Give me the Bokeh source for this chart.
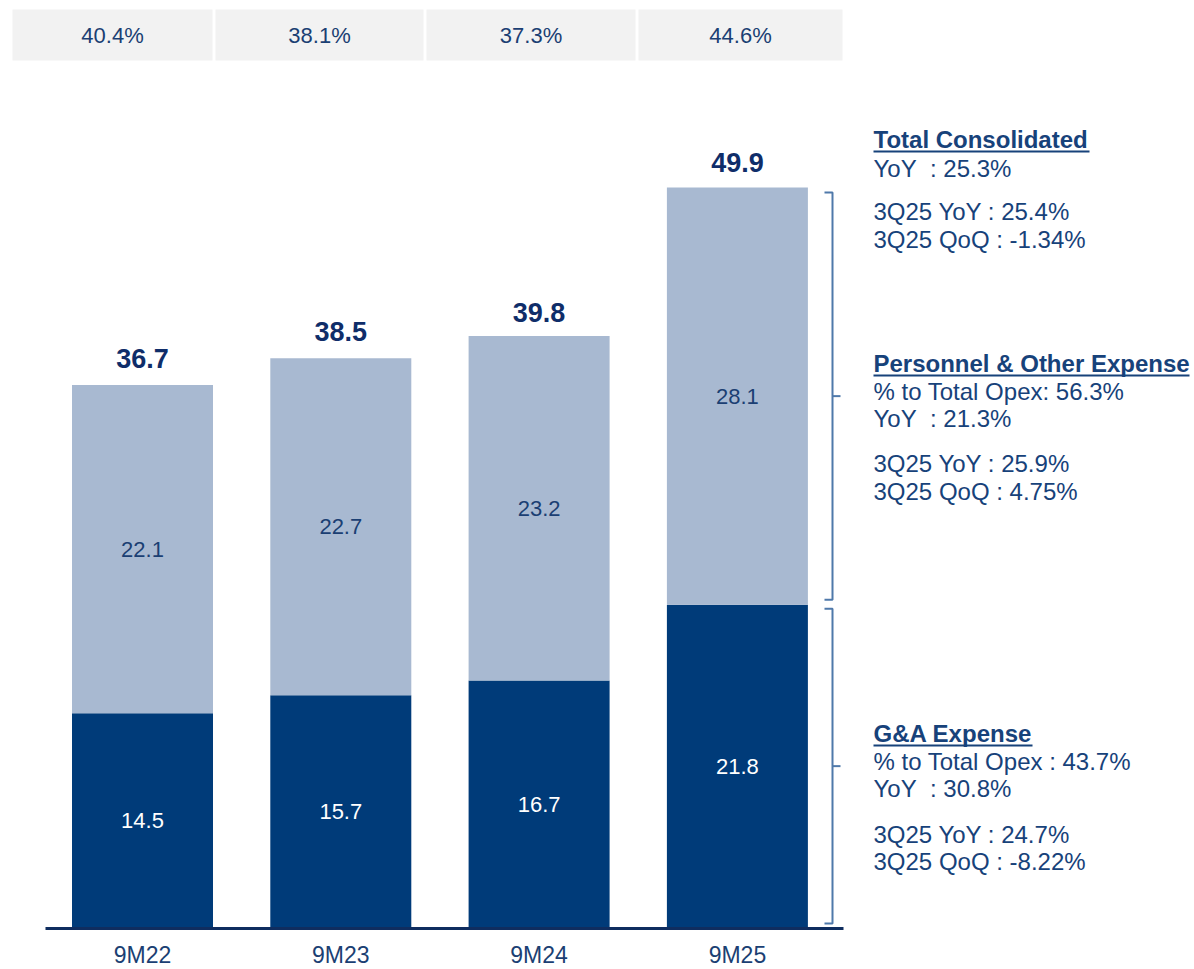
from bokeh.plotting import figure
from bokeh.models import Range1d, ColumnDataSource
from bokeh.core.properties import value
from bokeh.embed import file_html
from bokeh.resources import INLINE

# ---------------- data ----------------
categories = ["9M22", "9M23", "9M24", "9M25"]
ga_expense = [14.5, 15.7, 16.7, 21.8]
personnel_other = [22.1, 22.7, 23.2, 28.1]
totals = [36.7, 38.5, 39.8, 49.9]
ratio_labels = ["40.4%", "38.1%", "37.3%", "44.6%"]

panel_text = [
    "Total Consolidated", "YoY\u00a0 : 25.3%", "3Q25 YoY : 25.4%", "3Q25 QoQ : -1.34%",
    "Personnel & Other Expense", "% to Total Opex: 56.3%", "YoY\u00a0 : 21.3%",
    "3Q25 YoY : 25.9%", "3Q25 QoQ : 4.75%",
    "G&A Expense", "% to Total Opex : 43.7%", "YoY\u00a0 : 30.8%",
    "3Q25 YoY : 24.7%", "3Q25 QoQ : -8.22%",
]
panel_header = [True, False, False, False, True, False, False, False, False,
                True, False, False, False, False]

# ---------------- layout helpers (page pixels -> data units) ----------------
W, H = 1194, 969
PX_X = 198.3          # px per category step
PX_Y = 14.85          # px per unit of value
X0_PAGE = 142         # page x of first category centre
Y0_PAGE = 928         # page y of value 0


def X(px):
    return (px - X0_PAGE) / PX_X


def Y(py):
    return (Y0_PAGE - py) / PX_Y


DARK = "#003B79"
LIGHT = "#A8B9D1"
BOX = "#F2F2F2"
TXT = "#1B3F73"
TOTAL_TXT = "#0F2D69"
PANEL = "#17427A"
BRACKET = "#4F79AA"
FONT = "Liberation Sans"

p = figure(width=W, height=H, output_backend="svg", toolbar_location=None,
           x_range=Range1d(X(0), X(W)), y_range=Range1d(Y(H), Y(0)),
           min_border=0)
p.axis.visible = False
p.grid.visible = False
p.outline_line_color = None
p.background_fill_color = "white"
p.border_fill_color = "white"

xs = list(range(len(categories)))
bw = 141 / PX_X

src = ColumnDataSource(dict(
    x=xs, cat=categories, ga=ga_expense, po=personnel_other, tot=totals,
    ga_top=ga_expense,
    po_top=[g + q for g, q in zip(ga_expense, personnel_other)],
    ga_mid=[g / 2 for g in ga_expense],
    po_mid=[g + q / 2 for g, q in zip(ga_expense, personnel_other)],
    ga_lbl=[f"{v:.1f}" for v in ga_expense],
    po_lbl=[f"{v:.1f}" for v in personnel_other],
    tot_lbl=[f"{v:.1f}" for v in totals],
))

# stacked bars
p.vbar(x="x", bottom=0, top="ga_top", width=bw, source=src,
       fill_color=DARK, line_color=None)
p.vbar(x="x", bottom="ga_top", top="po_top", width=bw, source=src,
       fill_color=LIGHT, line_color=None)

# segment labels
p.text(x="x", y="ga_mid", text="ga_lbl", source=src, text_color="white",
       text_font=value(FONT), text_font_size="22px", text_align="center",
       text_baseline="middle")
p.text(x="x", y="po_mid", text="po_lbl", source=src, text_color=TXT,
       text_font=value(FONT), text_font_size="22px", text_align="center",
       text_baseline="middle")
# totals
p.text(x="x", y="tot", text="tot_lbl", source=src, text_color=TOTAL_TXT,
       text_font=value(FONT), text_font_size="27px", text_font_style="bold",
       text_align="center", text_baseline="middle", y_offset=-25)

# baseline
p.segment(x0=[X(45)], y0=[0], x1=[X(843)], y1=[0], line_color="#0F2D5F",
          line_width=3)

# category labels
p.text(x="x", y=Y(954), text="cat", source=src, text_color=TXT,
       text_font=value(FONT), text_font_size="23px", text_align="center",
       text_baseline="middle")

# top ratio boxes
box_left = [12, 215, 426, 638]
box_right = [212, 423, 635, 842]
bsrc = ColumnDataSource(dict(
    l=[X(v) for v in box_left], r=[X(v) for v in box_right],
    c=[X((a + b) / 2) for a, b in zip(box_left, box_right)],
    t=ratio_labels))
p.quad(left="l", right="r", top=Y(9), bottom=Y(60), source=bsrc,
       fill_color=BOX, line_color=None)
p.text(x="c", y=Y(35), text="t", source=bsrc, text_color=TXT,
       text_font=value(FONT), text_font_size="22px",
       text_align="center", text_baseline="middle")

# brackets (tied to 9M25 segments)
i4 = len(categories) - 1
top_b1 = totals[i4] - 5 / PX_Y
bot_b1 = ga_expense[i4] + 5 / PX_Y
mid_b1 = (top_b1 + bot_b1) / 2
top_b2 = ga_expense[i4] - 4 / PX_Y
bot_b2 = 0 + 5 / PX_Y
mid_b2 = (top_b2 + bot_b2) / 2
xa, xb, xc = X(824), X(832), X(840)
p.multi_line(
    xs=[[xa, xb, xb, xa], [xb, xc], [xa, xb, xb, xa], [xb, xc]],
    ys=[[top_b1, top_b1, bot_b1, bot_b1], [mid_b1, mid_b1],
        [top_b2, top_b2, bot_b2, bot_b2], [mid_b2, mid_b2]],
    line_color=BRACKET, line_width=2)

# right-hand commentary (alphabetic baselines in page px)
baselines = [148, 177, 220, 248, 372, 400, 427, 472, 500,
             742, 770, 797, 843, 870]
CAP_HALF = 8.6
tx = X(873)
hdr = [(t, b) for t, b, h in zip(panel_text, baselines, panel_header) if h]
body = [(t, b) for t, b, h in zip(panel_text, baselines, panel_header) if not h]
p.text(x=[tx] * len(hdr), y=[Y(b - CAP_HALF) for _, b in hdr],
       text=[t for t, _ in hdr],
       text_color=PANEL, text_font=value(FONT), text_font_size="24px",
       text_font_style="bold", text_baseline="middle", text_align="left")
p.text(x=[tx] * len(body), y=[Y(b - CAP_HALF) for _, b in body],
       text=[t for t, _ in body],
       text_color=PANEL, text_font=value(FONT), text_font_size="24px",
       text_baseline="middle", text_align="left")
# underlines for headers
ul_end = [1089, 1189, 1032]
p.segment(x0=[tx] * 3, y0=[Y(b + 3) for _, b in hdr],
          x1=[X(v) for v in ul_end], y1=[Y(b + 3) for _, b in hdr],
          line_color=PANEL, line_width=2)

open("out.html", "w").write(file_html(p, INLINE))
